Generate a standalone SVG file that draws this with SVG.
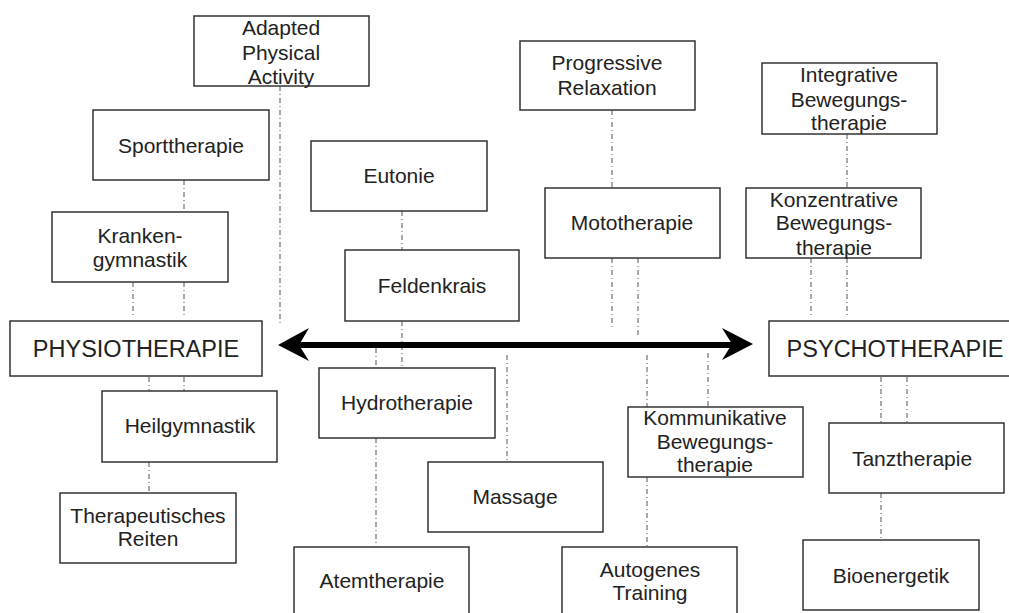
<svg xmlns="http://www.w3.org/2000/svg" width="1009" height="613" viewBox="0 0 1009 613">
<style>
.box{fill:#fff;stroke:#333;stroke-width:1.5}
.t{font-family:"Liberation Sans",Arial,sans-serif;font-size:21px;fill:#222;text-anchor:middle}
.big{font-size:23.5px}
.c line{stroke:#555;stroke-width:1;stroke-dasharray:5 3 1 3;fill:none}
</style>
<rect width="1009" height="613" fill="#fff"/>
<g id="connectors" class="c">
<line x1="280" y1="86" x2="280" y2="326"/>
<line x1="184" y1="180" x2="184" y2="212"/>
<line x1="133" y1="282" x2="133" y2="318"/>
<line x1="184" y1="282" x2="184" y2="318"/>
<line x1="149" y1="377" x2="149" y2="391"/>
<line x1="184" y1="377" x2="184" y2="391"/>
<line x1="149" y1="462" x2="149" y2="493"/>
<line x1="402" y1="211" x2="402" y2="250"/>
<line x1="402" y1="321" x2="402" y2="368"/>
<line x1="376" y1="348" x2="376" y2="368"/>
<line x1="376" y1="438" x2="376" y2="547"/>
<line x1="507" y1="355" x2="507" y2="462"/>
<line x1="612" y1="110" x2="612" y2="188"/>
<line x1="612" y1="258" x2="612" y2="330"/>
<line x1="638" y1="258" x2="638" y2="338"/>
<line x1="647" y1="355" x2="647" y2="407"/>
<line x1="708" y1="353" x2="708" y2="407"/>
<line x1="647" y1="477" x2="647" y2="547"/>
<line x1="847" y1="134" x2="847" y2="188"/>
<line x1="811" y1="258" x2="811" y2="316"/>
<line x1="847" y1="258" x2="847" y2="316"/>
<line x1="881" y1="377" x2="881" y2="423"/>
<line x1="907" y1="377" x2="907" y2="423"/>
<line x1="881" y1="493" x2="881" y2="540"/>
</g>
<g id="arrow">
<line x1="295" y1="345" x2="736" y2="345" stroke="#000" stroke-width="6"/>
<polygon points="278,345 309,328 299,345 309,361" fill="#000"/>
<polygon points="753,344 722,328 732,344 722,360" fill="#000"/>
</g>
<g id="n-adapted"><rect class="box" x="194" y="16" width="175" height="70"/>
<text class="t" x="281" y="35">Adapted</text><text class="t" x="281" y="60">Physical</text><text class="t" x="281" y="84">Activity</text></g>
<g id="n-sport"><rect class="box" x="93" y="110" width="176" height="70"/>
<text class="t" x="181" y="153">Sporttherapie</text></g>
<g id="n-kranken"><rect class="box" x="52" y="212" width="176" height="70"/>
<text class="t" x="140" y="243">Kranken-</text><text class="t" x="140" y="267">gymnastik</text></g>
<g id="n-physio"><rect class="box" x="10" y="321" width="252" height="55"/>
<text class="t big" x="136" y="357">PHYSIOTHERAPIE</text></g>
<g id="n-heil"><rect class="box" x="102" y="391" width="175" height="71"/>
<text class="t" x="190" y="433">Heilgymnastik</text></g>
<g id="n-reiten"><rect class="box" x="60" y="493" width="176" height="70"/>
<text class="t" x="148" y="523">Therapeutisches</text><text class="t" x="148" y="546">Reiten</text></g>
<g id="n-eutonie"><rect class="box" x="311" y="141" width="176" height="70"/>
<text class="t" x="399" y="183">Eutonie</text></g>
<g id="n-feldenkrais"><rect class="box" x="345" y="250" width="174" height="71"/>
<text class="t" x="432" y="293">Feldenkrais</text></g>
<g id="n-hydro"><rect class="box" x="319" y="368" width="176" height="70"/>
<text class="t" x="407" y="410">Hydrotherapie</text></g>
<g id="n-massage"><rect class="box" x="428" y="462" width="175" height="70"/>
<text class="t" x="515" y="504">Massage</text></g>
<g id="n-atem"><rect class="box" x="294" y="547" width="175" height="75"/>
<text class="t" x="382" y="588">Atemtherapie</text></g>
<g id="n-progressive"><rect class="box" x="520" y="41" width="175" height="69"/>
<text class="t" x="607" y="70">Progressive</text><text class="t" x="607" y="95">Relaxation</text></g>
<g id="n-moto"><rect class="box" x="545" y="188" width="175" height="70"/>
<text class="t" x="632" y="230">Mototherapie</text></g>
<g id="n-kommunikative"><rect class="box" x="628" y="407" width="175" height="70"/>
<text class="t" x="715" y="425">Kommunikative</text><text class="t" x="715" y="449">Bewegungs-</text><text class="t" x="715" y="472">therapie</text></g>
<g id="n-autogenes"><rect class="box" x="562" y="547" width="175" height="75"/>
<text class="t" x="650" y="577">Autogenes</text><text class="t" x="650" y="600">Training</text></g>
<g id="n-integrative"><rect class="box" x="762" y="63" width="175" height="71"/>
<text class="t" x="849" y="82">Integrative</text><text class="t" x="849" y="107">Bewegungs-</text><text class="t" x="849" y="130">therapie</text></g>
<g id="n-konzentrative"><rect class="box" x="746" y="188" width="175" height="70"/>
<text class="t" x="834" y="207">Konzentrative</text><text class="t" x="834" y="230">Bewegungs-</text><text class="t" x="834" y="255">therapie</text></g>
<g id="n-psycho"><rect class="box" x="769" y="321" width="250" height="55"/>
<text class="t big" x="895" y="357">PSYCHOTHERAPIE</text></g>
<g id="n-tanz"><rect class="box" x="829" y="423" width="175" height="70"/>
<text class="t" x="912" y="466">Tanztherapie</text></g>
<g id="n-bio"><rect class="box" x="803" y="540" width="176" height="70"/>
<text class="t" x="891" y="583">Bioenergetik</text></g>
</svg>
